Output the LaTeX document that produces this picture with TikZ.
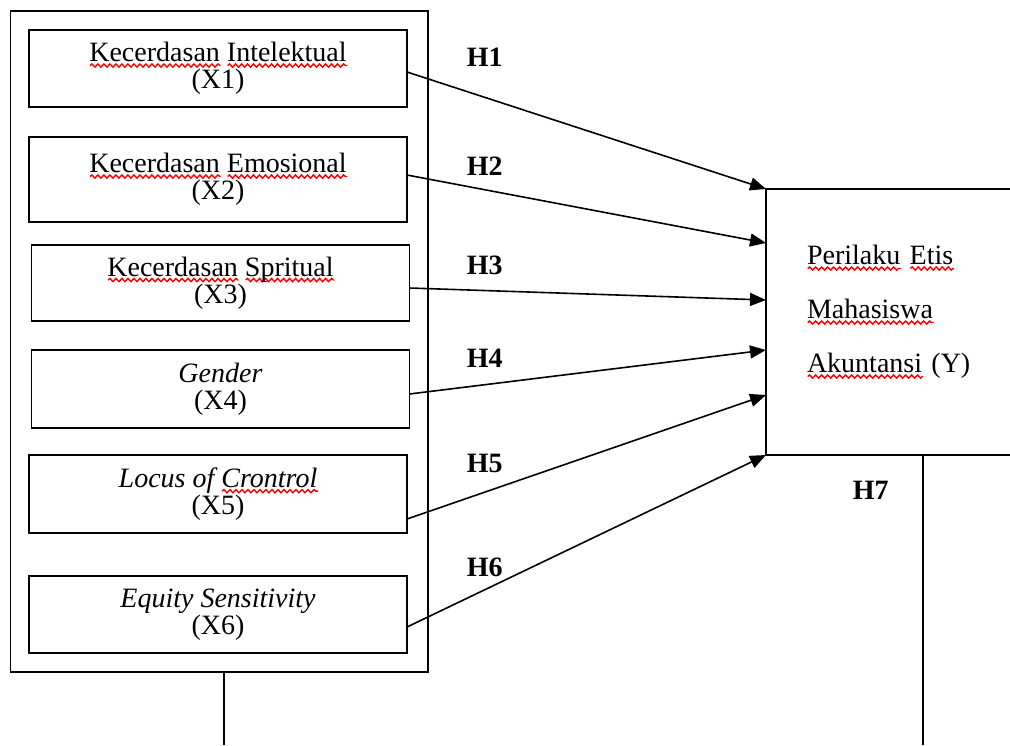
\documentclass[tikz,border=0pt]{standalone}
\usepackage{fontspec}
\setmainfont{Liberation Serif}
\usepackage{xcolor}
\usepackage{tikz}
\usetikzlibrary{arrows.meta}
\usetikzlibrary{fit}
\usetikzlibrary{positioning}
\usetikzlibrary{decorations.pathmorphing}

\newcommand\typo[1]{\leavevmode\setbox0\hbox{#1}\rlap{\tikz[baseline=0pt]\draw[red, line width=0.7pt, decorate, decoration={snake, amplitude=0.8pt, segment length=3pt}] (0pt,-1.9pt) -- (\wd0,-1.9pt);}\box0\relax}
\newcommand\boxfont{\fontsize{14pt}{13.5pt}\selectfont\lineskiplimit=-20pt}
\newcommand\yfont{\fontsize{14pt}{27pt}\selectfont\lineskiplimit=-20pt}

\begin{document}
\begin{tikzpicture}[x=0.5pt,y=-0.5pt,-,>={Triangle[length=8pt,width=6.5pt]},line width=0.8pt]
 	\tikzstyle{var}=[draw, rectangle, minimum width=189pt, minimum height=38.5pt, inner sep=0pt, outer sep=0pt, align=center, font=\boxfont]
 	\tikzstyle{hyp}=[inner sep=0pt, anchor=west, font=\fontsize{14pt}{16pt}\selectfont\bfseries]
 	\useasboundingbox (0,0) rectangle (1010,745);
 	\clip (0,0) rectangle (1010,745);
 		\node[var]		(X1) at (218,68.5)		{\typo{Kecerdasan} \typo{Intelektual}\\(X1)};
 		\node[var, minimum height=42.5pt]	(X2) [below=15pt of X1]		{\typo{Kecerdasan} \typo{Emosional}\\(X2)};
 		\node[var, minimum height=38pt]	(X3) [below=11.5pt of X2, xshift=1.25pt]	{\typo{Kecerdasan} \typo{Spritual}\\(X3)};
 		\node[var, minimum height=39pt]	(X4) [below=14.5pt of X3]	{\textit{Gender}\\(X4)};
 		\node[var, minimum height=39pt]	(X5) [below=13.5pt of X4, xshift=-1.25pt]	{\textit{Locus of \typo{Crontrol}}\\(X5)};
 		\node[var]		(X6) [below=21.5pt of X5]	{\textit{Equity Sensitivity}\\(X6)};
 		\node[draw, fit=(X1)(X3)(X6), inner xsep=9.25pt, inner ysep=9.5pt, outer sep=0pt]	(grp) {};
 		\node[draw, anchor=north west, outer sep=0pt, minimum width=140pt, minimum height=133pt, text width=99pt, inner xsep=20.5pt, align=left, font=\yfont]	(Y) at (766,189)
 			{\typo{Perilaku} \typo{Etis}\\\typo{Mahasiswa}\\\typo{Akuntansi} (Y)\rule[-13pt]{0pt}{13pt}};
 		\node[hyp]	(H1) at (466,57)	{H1};
 		\node[hyp]	(H2) at (466,166)	{H2};
 		\node[hyp]	(H3) at (466,265)	{H3};
 		\node[hyp]	(H4) at (466,358)	{H4};
 		\node[hyp]	(H5) at (466,463)	{H5};
 		\node[hyp]	(H6) at (466,567)	{H6};
 		\node[hyp]	(H7) at (852,490)	{H7};
 		\coordinate (gEnd) at (224,745);
 		\coordinate (yEnd) at (923,745);
 		\path[->]
 			([yshift=-1.75pt]X1.east) edge (Y.north west)
 			([yshift=2.25pt]X2.east) edge ([yshift=-27pt]Y.north west)
 			([yshift=-2.5pt]X3.east) edge ([yshift=-55.5pt]Y.north west)
 			([yshift=-2.5pt]X4.east) edge ([yshift=-80.5pt]Y.north west)
 			([yshift=-12.5pt]X5.east) edge ([yshift=-103pt]Y.north west)
 			([yshift=-6.25pt]X6.east) edge (Y.south west);
 		\draw (gEnd |- grp.south) -- (gEnd);
 		\draw (yEnd |- Y.south) -- (yEnd);
\end{tikzpicture}
\end{document}
